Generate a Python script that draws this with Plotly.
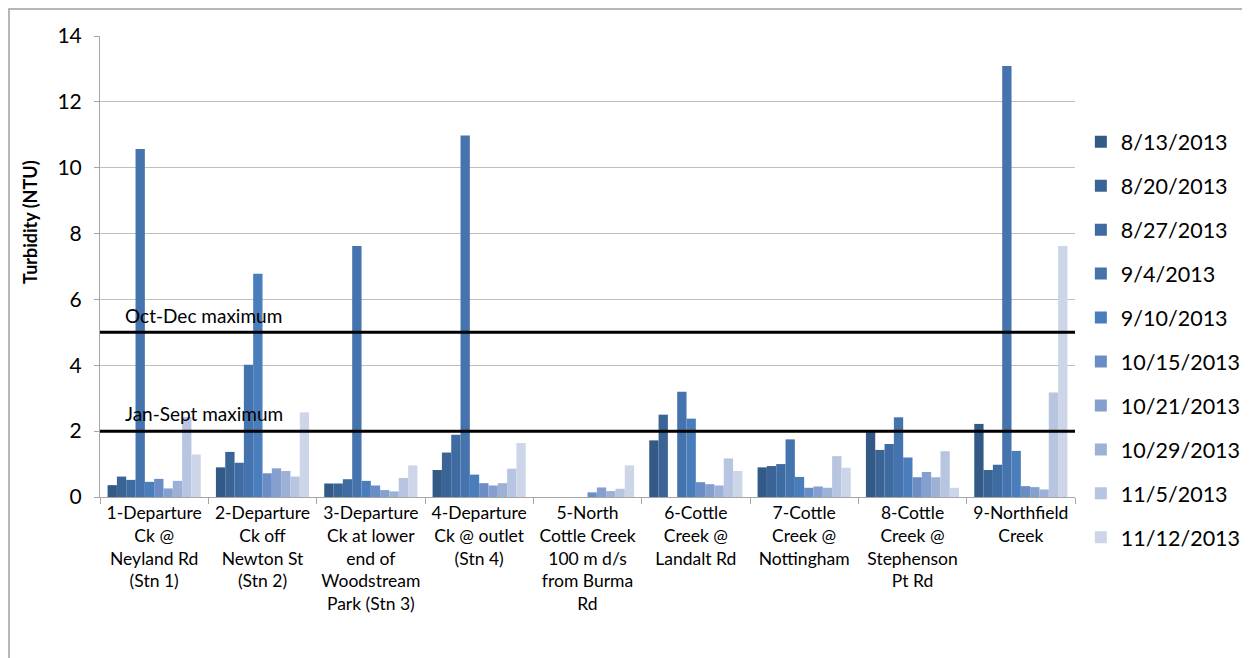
import plotly.graph_objects as go

stations = [
    "1-Departure<br>Ck @<br>Neyland Rd<br>(Stn 1)",
    "2-Departure<br>Ck off<br>Newton St<br>(Stn 2)",
    "3-Departure<br>Ck at lower<br>end of<br>Woodstream<br>Park (Stn 3)",
    "4-Departure<br>Ck @ outlet<br>(Stn 4)",
    "5-North<br>Cottle Creek<br>100 m d/s<br>from Burma<br>Rd",
    "6-Cottle<br>Creek @<br>Landalt Rd",
    "7-Cottle<br>Creek @<br>Nottingham",
    "8-Cottle<br>Creek @<br>Stephenson<br>Pt Rd",
    "9-Northfield<br>Creek",
]

dates = ["8/13/2013", "8/20/2013", "8/27/2013", "9/4/2013", "9/10/2013",
         "10/15/2013", "10/21/2013", "10/29/2013", "11/5/2013", "11/12/2013"]

# values per date, one per station
d_0813 = [0.36, 0.90, 0.41, 0.82, None, 1.72, 0.90, 1.97, 2.22]
d_0820 = [0.62, 1.37, 0.41, 1.35, None, 2.50, 0.94, 1.43, 0.82]
d_0827 = [0.52, 1.04, 0.54, 1.89, None, None, 1.00, 1.61, 0.98]
d_0904 = [10.57, 4.02, 7.62, 10.98, None, 3.20, 1.75, 2.42, 13.09]
d_0910 = [0.46, 6.78, 0.49, 0.68, None, 2.38, 0.61, 1.20, 1.40]
d_1015 = [0.55, 0.72, 0.35, 0.42, 0.14, 0.45, 0.28, 0.60, 0.33]
d_1021 = [0.26, 0.87, 0.21, 0.35, 0.29, 0.39, 0.32, 0.76, 0.30]
d_1029 = [0.49, 0.79, 0.17, 0.42, 0.18, 0.35, 0.28, 0.60, 0.23]
d_1105 = [2.43, 0.62, 0.58, 0.86, 0.25, 1.17, 1.24, 1.39, 3.17]
d_1112 = [1.29, 2.57, 0.96, 1.64, 0.96, 0.79, 0.89, 0.28, 7.62]

series = [d_0813, d_0820, d_0827, d_0904, d_0910,
          d_1015, d_1021, d_1029, d_1105, d_1112]

colors = ["#335A87", "#3A6396", "#3F6BA3", "#4473AE", "#4A7DBB",
          "#6A8DC5", "#859FCF", "#9DB0D6", "#B8C5E0", "#CDD6E9"]

oct_dec_max = 5
jan_sept_max = 2

FONT = "Lato, Calibri, Carlito, sans-serif"

W, H = 1242, 650
L, R, T, B = 92, 175, 28, 161
PW, PH = W - L - R, H - T - B

fig = go.Figure()
for i, (name, vals) in enumerate(zip(dates, series)):
    fig.add_trace(go.Bar(
        x=stations, y=vals, name=name,
        marker=dict(color=colors[i], line=dict(width=0)),
        legendgroup=name,
    ))

fig.update_layout(
    width=W, height=H,
    barmode="group", bargap=0.14, bargroupgap=0,
    plot_bgcolor="white", paper_bgcolor="white",
    margin=dict(l=L, r=R, t=T, b=B, autoexpand=False),
    font=dict(family=FONT, color="#000000"),
    showlegend=True,
    legend=dict(
        x=1.006, xanchor="left", y=0.815, yanchor="top",
        font=dict(size=21.5, family=FONT),
        tracegroupgap=13, itemwidth=30,
        bgcolor="rgba(0,0,0,0)",
    ),
    xaxis=dict(
        automargin=False,
        showgrid=False, showline=True, linecolor="#A6A6A6", linewidth=1,
        ticks="outside", tickson="boundaries", ticklen=6, tickcolor="#A6A6A6",
        tickfont=dict(size=17.5, family=FONT), tickangle=0,
        range=[-0.5, 8.5],
    ),
    yaxis=dict(
        automargin=False,
        range=[0, 14], dtick=2, showgrid=True, gridcolor="#BFBFBF", gridwidth=1,
        showline=True, linecolor="#A6A6A6", linewidth=1,
        ticks="outside", ticklen=5, tickcolor="#A6A6A6", ticklabelstandoff=8,
        tickfont=dict(size=21, family=FONT),
        zeroline=False,
    ),
)

# y-axis title
fig.add_annotation(text="<b>Turbidity (NTU)</b>", xref="paper", yref="paper",
                   x=(22 - L) / PW, y=(PH + T - 214) / PH, textangle=-90,
                   xanchor="center", yanchor="middle", showarrow=False,
                   font=dict(size=18, family=FONT, color="black"))

for yv in (oct_dec_max, jan_sept_max):
    fig.add_shape(type="line", xref="paper", yref="y", x0=0, x1=1, y0=yv, y1=yv,
                  line=dict(color="black", width=3))

fig.add_annotation(text="Oct-Dec maximum", xref="paper", yref="y", x=0.024, y=oct_dec_max + 0.5,
                   xanchor="left", yanchor="middle", showarrow=False,
                   font=dict(size=19, family=FONT, color="black"))
fig.add_annotation(text="Jan-Sept maximum", xref="paper", yref="y", x=0.024, y=jan_sept_max + 0.55,
                   xanchor="left", yanchor="middle", showarrow=False,
                   font=dict(size=19, family=FONT, color="black"))

# outer chart frame (left and top edges visible, the rest runs off the page)
fig.add_shape(type="rect", xref="paper", yref="paper",
              x0=(1 - L) / PW, x1=(W + 40 - L) / PW,
              y0=(PH + T - (H + 40)) / PH, y1=(PH + T - 1) / PH,
              line=dict(color="#A0A0A0", width=1.5), fillcolor="rgba(0,0,0,0)", layer="below")

fig.write_html("out.html")
